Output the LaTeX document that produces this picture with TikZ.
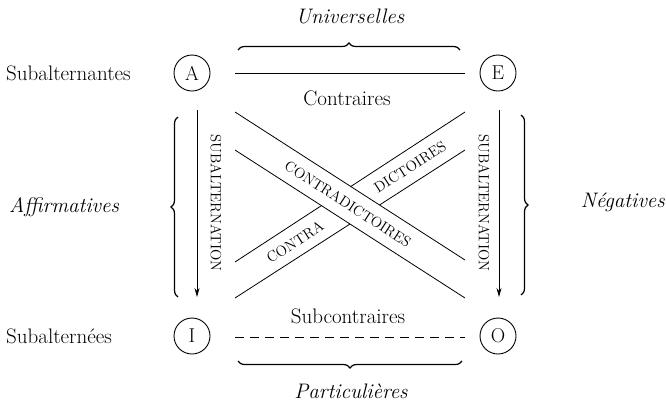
\documentclass[tikz,border=0pt]{standalone}
\usepackage{fontspec}
\usetikzlibrary{decorations.pathreplacing,arrows.meta}
\begin{document}
\begin{tikzpicture}[x=1pt,y=-1pt,
  lbl/.style={inner sep=0pt,font=\fontsize{21}{24}\selectfont},
  itl/.style={inner sep=0pt,font=\fontsize{21}{24}\selectfont\itshape},
  caps/.style={inner sep=0pt,font=\fontsize{14.8}{16}\selectfont},
  prop/.style={circle,draw,line width=0.9pt,minimum size=36pt,inner sep=0pt,font=\fontsize{20}{22}\selectfont},
  band/.style={line width=0.8pt},
  brc/.style={decorate,decoration={brace,amplitude=7pt},line width=1.2pt},
  sub/.style={line width=0.8pt,-{Stealth[length=9pt,width=5pt]}}
]
\useasboundingbox (0,0) rectangle (666,405);
% propositions
\node[prop] (A) at (192,73) {A};
\node[prop] (E) at (498,73) {E};
\node[prop] (I) at (192,336) {I};
\node[prop] (O) at (498,336) {O};
% side labels
\node[lbl,anchor=west] (lsa) at (6,73) {Subalternantes};
\node[lbl,anchor=west] (lse) at (6,336) {Subalternées};
\node[itl,anchor=west] (laf) at (9,207) {Affirmatives};
\node[itl,anchor=east] (lne) at (665,202) {Négatives};
\node[itl] (lun) at (350,16) {Universelles};
\node[itl] (lpa) at (351,391) {Particulières};
% contraires
\coordinate (c1) at (235,73);
\coordinate (c2) at (465,73);
\draw[line width=0.8pt] (c1) -- (c2);
\node[lbl] (lco) at (347,98) {Contraires};
% subcontraires
\coordinate (s1) at (235,337);
\coordinate (s2) at (465,337);
\draw[line width=0.8pt,dash pattern=on 9pt off 6pt] (s1) -- (s2);
\node[lbl] (lsc) at (348,316) {Subcontraires};
% subalternation arrows
\coordinate (a1) at (197,110);
\coordinate (a2) at (197,297);
\coordinate (e1) at (499,110);
\coordinate (e2) at (499,297);
\draw[sub] (a1) -- (a2);
\draw[sub] (e1) -- (e2);
\node[caps,rotate=-90] (ls1) at (216,203) {SUBALTERNATION};
\node[caps,rotate=-90] (ls2) at (484,203) {SUBALTERNATION};
% contradictoires bands
\coordinate (d1) at (235,112);
\coordinate (d2) at (465,260);
\coordinate (d3) at (465,298);
\coordinate (d4) at (235,150);
\coordinate (u1) at (235,262);
\coordinate (u2) at (465,112);
\coordinate (u3) at (465,150);
\coordinate (u4) at (235,298);
\draw[band] (u1) -- (u2);
\draw[band] (u4) -- (u3);
\fill[white] (d1) -- (d2) -- (d3) -- (d4) -- cycle;
\draw[band] (d1) -- (d2);
\draw[band] (d4) -- (d3);
\node[caps,rotate=-32.8] (lcd) at (348,204) {CONTRADICTOIRES};
\node[caps,rotate=32.8] (lct) at (295,242) {CONTRA};
\node[caps,rotate=32.8] (ldi) at (410,167) {DICTOIRES};
% braces
\coordinate (bt1) at (238,50);
\coordinate (bt2) at (460,50);
\coordinate (bb1) at (462,361);
\coordinate (bb2) at (238,361);
\coordinate (bl1) at (178,297);
\coordinate (bl2) at (178,117);
\coordinate (br1) at (521,115);
\coordinate (br2) at (521,295);
\draw[brc] (bt1) -- (bt2);
\draw[brc] (bb1) -- (bb2);
\draw[brc] (bl1) -- (bl2);
\draw[brc] (br1) -- (br2);
\end{tikzpicture}
\end{document}
